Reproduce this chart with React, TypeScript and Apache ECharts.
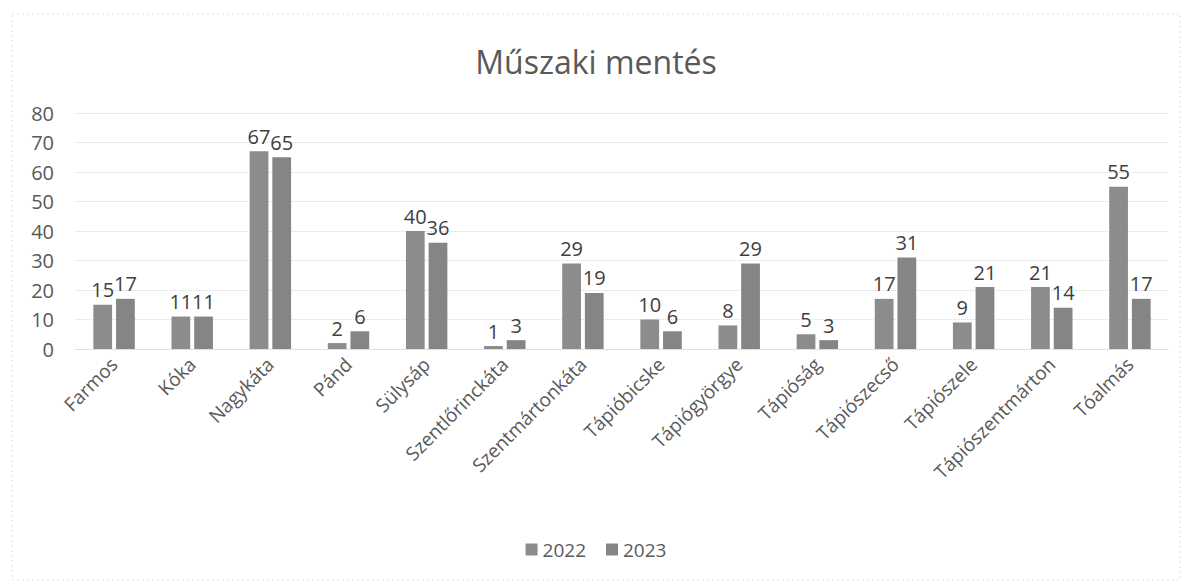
import React, { useEffect, useRef } from "react";
import * as echarts from "echarts";

const categories = [
  "Farmos",
  "Kóka",
  "Nagykáta",
  "Pánd",
  "Sülysáp",
  "Szentlőrinckáta",
  "Szentmártonkáta",
  "Tápióbicske",
  "Tápiógyörgye",
  "Tápióság",
  "Tápiószecső",
  "Tápiószele",
  "Tápiószentmárton",
  "Tóalmás",
];
const values2022 = [15, 11, 67, 2, 40, 1, 29, 10, 8, 5, 17, 9, 21, 55];
const values2023 = [17, 11, 65, 6, 36, 3, 19, 6, 29, 3, 31, 21, 14, 17];
const seriesNames = ["2022", "2023"];
const yTicks = { min: 0, max: 80, interval: 10 };

const FONT = "'Open Sans', sans-serif";

export default function App() {
  const ref = useRef<HTMLDivElement>(null);
  useEffect(() => {
    if (!ref.current) return;
    const chart = echarts.init(ref.current, undefined, { renderer: "svg" });
    const labelStyle = {
      show: true,
      position: "top" as const,
      fontSize: 20,
      color: "#404040",
      fontFamily: FONT,
      distance: 5,
    };
    chart.setOption({
      animation: false,
      backgroundColor: "#ffffff",
      title: {
        text: "Műszaki mentés",
        left: "center",
        top: 40,
        textStyle: { fontSize: 32, fontWeight: "normal", color: "#595959", fontFamily: FONT },
      },
      legend: {
        bottom: 22,
        left: "center",
        itemWidth: 12,
        itemHeight: 12,
        itemGap: 20,
        icon: "rect",
        textStyle: { fontSize: 19, color: "#595959", fontFamily: FONT },
        data: seriesNames,
      },
      grid: { left: 75, right: 23, top: 113, bottom: 237, containLabel: false },
      xAxis: {
        type: "category",
        data: categories,
        axisLine: { show: true, lineStyle: { color: "#d9d9d9", type: "dotted" } },
        axisTick: { show: false },
        axisLabel: {
          rotate: 45,
          interval: 0,
          fontSize: 19,
          color: "#595959",
          fontFamily: FONT,
          margin: 12,
        },
      },
      yAxis: {
        type: "value",
        min: yTicks.min,
        max: yTicks.max,
        interval: yTicks.interval,
        axisLine: { show: false },
        axisTick: { show: false },
        splitLine: { lineStyle: { color: "#d9d9d9", type: "dotted" } },
        axisLabel: { fontSize: 20, color: "#595959", fontFamily: FONT, margin: 21 },
      },
      series: [
        {
          name: seriesNames[0],
          type: "bar",
          data: values2022,
          barWidth: "24%",
          barGap: "21%",
          itemStyle: { color: "#8c8c8c" },
          label: labelStyle,
        },
        {
          name: seriesNames[1],
          type: "bar",
          data: values2023,
          barWidth: "24%",
          itemStyle: { color: "#858585" },
          label: labelStyle,
        },
      ],
      graphic: [
        {
          type: "rect",
          shape: { x: 12, y: 14, width: 1168, height: 566 },
          style: { fill: "none", stroke: "#e0e0e0", lineWidth: 1, lineDash: [2, 3] },
          silent: true,
        },
      ],
    });
    return () => chart.dispose();
  }, []);
  return (
    <div
      ref={ref}
      style={{ position: "fixed", left: 0, top: 0, width: 1192, height: 586 }}
    />
  );
}
